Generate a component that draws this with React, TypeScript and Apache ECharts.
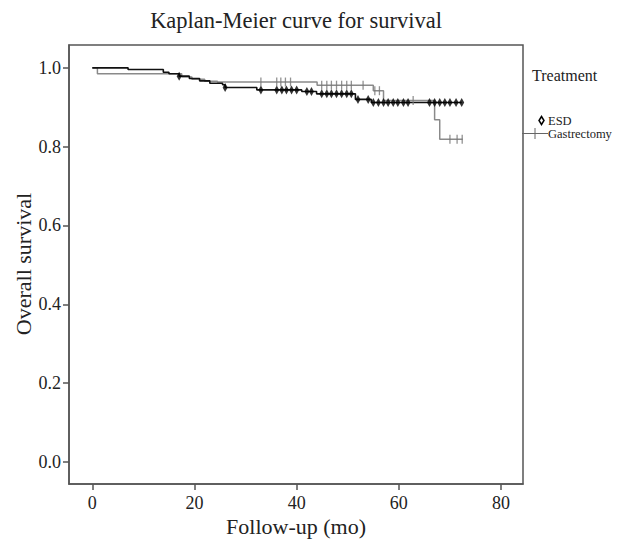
import React, { useEffect, useRef } from "react";
import * as echarts from "echarts";

const xTicks = [0, 20, 40, 60, 80];
const yTicks = [0, 0.2, 0.4, 0.6, 0.8, 1.0];

const esdTimes = [0, 7, 13.9, 15, 17, 19, 21, 23, 25.5, 26, 32.2, 41, 43.9, 51.5, 54.6, 72.3];
const esdSurv = [1, 0.996, 0.989, 0.985, 0.979, 0.973, 0.967, 0.961, 0.957, 0.95, 0.944, 0.94, 0.934, 0.92, 0.912, 0.912];
const esdCensor = [17, 26, 33, 36.1, 37.1, 38, 39, 40, 42, 42.9, 44.9, 45.9, 46.8, 47.8, 48.8, 49.8, 50.7, 52, 54, 55, 56, 57, 57.9, 58.9, 59.8, 60.9, 61.8, 66, 67, 68, 69, 70, 71.2, 72.3];

const gasTimes = [0, 1, 17.5, 19.5, 22, 24.5, 44, 55, 57, 67, 68, 72.5];
const gasSurv = [1, 0.985, 0.977, 0.971, 0.966, 0.964, 0.956, 0.942, 0.917, 0.868, 0.819, 0.819];
const gasCensor = [33, 36.1, 36.9, 37.8, 38.8, 44.9, 45.9, 46.8, 47.8, 48.8, 49.8, 50.7, 53, 55.3, 56.2, 62.8, 70, 71.4, 72.4];

const legendTitle = "Treatment";
const groupNames = ["ESD", "Gastrectomy"];
const chartTitle = "Kaplan-Meier curve for survival";
const xName = "Follow-up (mo)";
const yName = "Overall survival";

function stepValue(times: number[], surv: number[], t: number) {
  let v = surv[0];
  for (let i = 0; i < times.length; i++) if (times[i] <= t) v = surv[i];
  return v;
}

const FONT = "Liberation Serif";
const AX = "#555";
const TXT = "#222";

export default function App() {
  const ref = useRef<HTMLDivElement>(null);
  useEffect(() => {
    const chart = echarts.init(ref.current!, null, { renderer: "svg" });
    chart.setOption({
      animation: false,
      backgroundColor: "#fff",
      textStyle: { fontFamily: FONT },
      grid: { left: 69, right: 99, top: 45, bottom: 57, show: true, borderColor: AX, borderWidth: 1.5 },
      xAxis: {
        type: "value",
        min: -4.56,
        max: 84.3,
        axisLine: { show: true, onZero: false, lineStyle: { color: AX, width: 1.5 } },
        axisTick: { show: true, customValues: xTicks, length: 6, lineStyle: { color: AX, width: 1.5 } },
        axisLabel: { customValues: xTicks, margin: 10, fontSize: 18, color: TXT, fontFamily: FONT },
        splitLine: { show: false },
      },
      yAxis: {
        type: "value",
        min: -0.056,
        max: 1.058,
        axisLine: { show: true, onZero: false, lineStyle: { color: AX, width: 1.5 } },
        axisTick: { show: true, customValues: yTicks, length: 6, lineStyle: { color: AX, width: 1.5 } },
        axisLabel: {
          customValues: yTicks,
          margin: 8,
          fontSize: 18,
          color: TXT,
          fontFamily: FONT,
          formatter: (v: number) => v.toFixed(1),
        },
        splitLine: { show: false },
      },
      series: [
        {
          name: groupNames[1],
          type: "line",
          step: "end",
          showSymbol: false,
          data: gasTimes.map((t, i) => [t, gasSurv[i]]),
          lineStyle: { color: "#8a8a8a", width: 1.5 },
          z: 2,
        },
        {
          name: groupNames[0],
          type: "line",
          step: "end",
          showSymbol: false,
          data: esdTimes.map((t, i) => [t, esdSurv[i]]),
          lineStyle: { color: "#111", width: 1.6 },
          z: 3,
        },
        {
          name: groupNames[0] + " censored",
          type: "scatter",
          symbol: "diamond",
          symbolSize: [5, 9],
          data: esdCensor.map((t) => [t, stepValue(esdTimes, esdSurv, t)]),
          itemStyle: { color: "#000" },
          z: 4,
        },
        {
          name: groupNames[1] + " censored",
          type: "scatter",
          symbol: "rect",
          symbolSize: [1.3, 9],
          data: gasCensor.map((t) => [t, stepValue(gasTimes, gasSurv, t)]),
          itemStyle: { color: "#777" },
          z: 5,
        },
      ],
      graphic: [
        {
          type: "text",
          silent: true,
          x: 296,
          y: 20,
          style: { text: chartTitle, fontSize: 22.5, fontFamily: FONT, fill: TXT, textAlign: "center", textVerticalAlign: "middle" },
        },
        {
          type: "text",
          silent: true,
          x: 296,
          y: 526,
          style: { text: xName, fontSize: 22, fontFamily: FONT, fill: TXT, textAlign: "center", textVerticalAlign: "middle" },
        },
        {
          type: "text",
          silent: true,
          x: 23,
          y: 264,
          rotation: Math.PI / 2,
          style: { text: yName, fontSize: 22, fontFamily: FONT, fill: TXT, textAlign: "center", textVerticalAlign: "middle" },
        },
        {
          type: "text",
          silent: true,
          x: 532,
          y: 75,
          style: { text: legendTitle, fontSize: 16, fontFamily: FONT, fill: TXT, textAlign: "left", textVerticalAlign: "middle" },
        },
        {
          type: "polygon",
          silent: true,
          shape: { points: [[541.5, 116.5], [544, 120.5], [541.5, 124.5], [539, 120.5]] },
          style: { fill: "#fff", stroke: "#000", lineWidth: 1.5 },
        },
        {
          type: "text",
          silent: true,
          x: 548,
          y: 120.5,
          style: { text: groupNames[0], fontSize: 12.5, fontFamily: FONT, fill: TXT, textAlign: "left", textVerticalAlign: "middle" },
        },
        {
          type: "line",
          silent: true,
          shape: { x1: 522, y1: 133.5, x2: 548, y2: 133.5 },
          style: { stroke: "#666", lineWidth: 1 },
        },
        {
          type: "line",
          silent: true,
          shape: { x1: 535, y1: 128, x2: 535, y2: 139 },
          style: { stroke: "#666", lineWidth: 1 },
        },
        {
          type: "text",
          silent: true,
          x: 548,
          y: 133.5,
          style: { text: groupNames[1], fontSize: 12.5, fontFamily: FONT, fill: TXT, textAlign: "left", textVerticalAlign: "middle" },
        },
      ],
    });
    return () => chart.dispose();
  }, []);
  return (
    <div
      ref={ref}
      style={{ position: "fixed", left: 0, top: 0, width: 622, height: 541, background: "#fff" }}
    />
  );
}
